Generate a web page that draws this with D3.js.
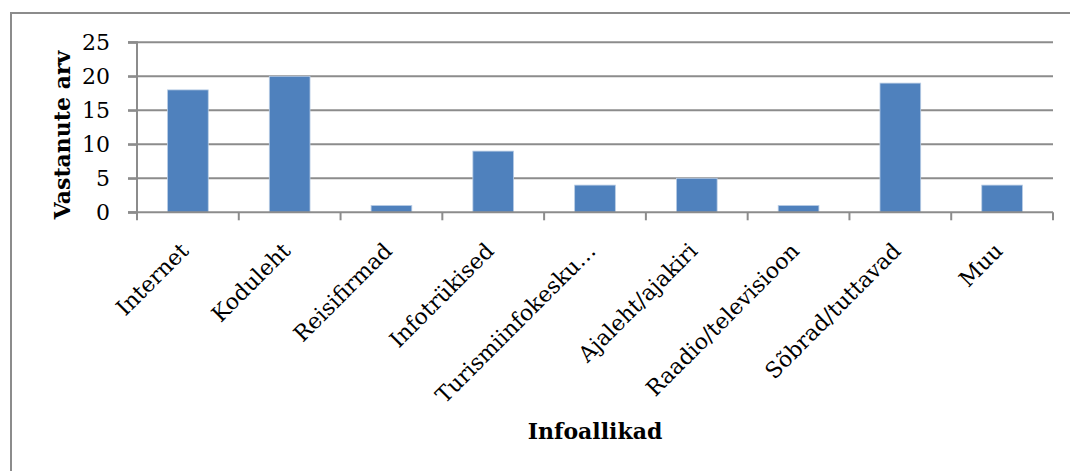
<!DOCTYPE html>
<html><head><meta charset="utf-8">
<script src="https://cdn.jsdelivr.net/npm/d3@7"></script>
<style>body{margin:0;background:#fff}svg{display:block}</style>
</head><body>
<svg id="c" width="1070" height="471"></svg>
<script>
const categories = ["Internet","Koduleht","Reisifirmad","Infotrükised","Turismiinfokesku…","Ajaleht/ajakiri","Raadio/televisioon","Sõbrad/tuttavad","Muu"];
const values = [18,20,1,9,4,5,1,19,4];
const yTicks = [0,5,10,15,20,25];
const yTitle = "Vastanute arv";
const xTitle = "Infoallikad";

const svg = d3.select("#c");
const font = "'DejaVu Serif', serif";
const L = 137, R = 1053, T = 42.3, B = 212.3;

svg.append("rect").attr("x",11).attr("y",13).attr("width",1100).attr("height",500)
  .attr("fill","#fff").attr("stroke","#8c8c8c").attr("stroke-width",2);

const x = d3.scaleBand().domain(categories).range([L,R]).paddingInner(0.6).paddingOuter(0.3);
const y = d3.scaleLinear().domain([0,25]).range([B,T]);

// gridlines
svg.append("g").selectAll("line").data(yTicks.filter(d=>d>0)).join("line")
  .attr("x1",L-9).attr("x2",R).attr("y1",d=>y(d)).attr("y2",d=>y(d))
  .attr("stroke","#8c8c8c").attr("stroke-width",2);

// bars
svg.append("g").selectAll("rect").data(values).join("rect")
  .attr("x",(d,i)=>x(categories[i])).attr("width",x.bandwidth())
  .attr("y",d=>y(d)).attr("height",d=>B-y(d))
  .attr("fill","#4f81bd").attr("stroke","#b9cde5").attr("stroke-width",0.8);

// y axis
const ya = d3.axisLeft(y).tickValues(yTicks).tickSize(9).tickPadding(18);
const gy = svg.append("g").attr("transform",`translate(${L},0)`).call(ya);
gy.select(".domain").attr("stroke","#8c8c8c").attr("stroke-width",2).attr("d",`M-9,${T}H0V${B}H-9`);
gy.selectAll(".tick line").attr("stroke","#8c8c8c").attr("stroke-width",2);
gy.selectAll("text").attr("font-family",font).attr("font-size",22).attr("fill","#000");

// x axis
const step = x.step();
const edges = d3.range(categories.length+1).map(i=>L+i*step);
svg.append("line").attr("x1",L-9).attr("x2",R).attr("y1",B).attr("y2",B).attr("stroke","#8c8c8c").attr("stroke-width",2);
svg.append("g").selectAll("line").data(edges).join("line")
  .attr("x1",d=>d).attr("x2",d=>d).attr("y1",B).attr("y2",B+8)
  .attr("stroke","#8c8c8c").attr("stroke-width",2);

svg.append("g").selectAll("text").data(categories).join("text")
  .attr("transform",d=>`translate(${x(d)+x.bandwidth()/2+2},${B+40}) rotate(-45)`)
  .attr("text-anchor","end").attr("font-family",font).attr("font-size",22).attr("fill","#000")
  .text(d=>d);

// titles
svg.append("text").attr("transform",`translate(70,135) rotate(-90)`).attr("text-anchor","middle")
  .attr("font-family",font).attr("font-weight","bold").attr("font-size",22).text(yTitle);
svg.append("text").attr("x",595).attr("y",439).attr("text-anchor","middle")
  .attr("font-family",font).attr("font-weight","bold").attr("font-size",22).text(xTitle);
</script>
</body></html>
